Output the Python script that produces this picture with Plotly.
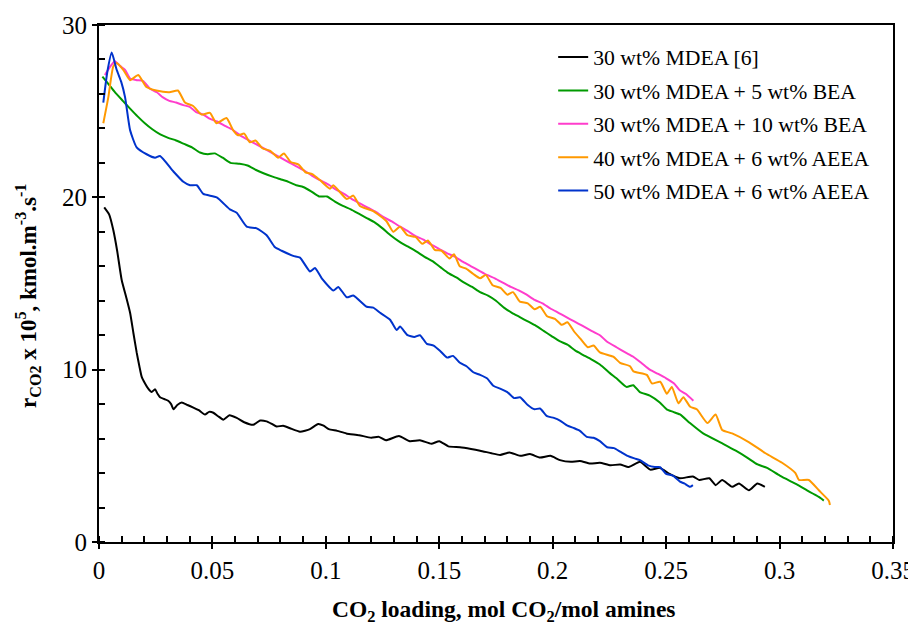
import plotly.graph_objects as go

# ---------------- data ----------------
series_names = [
    "30 wt% MDEA [6]",
    "30 wt% MDEA + 5 wt% BEA",
    "30 wt% MDEA + 10 wt% BEA",
    "40 wt% MDEA + 6 wt% AEEA",
    "50 wt% MDEA + 6 wt% AEEA",
]
series_colors = ["#000000", "#009A00", "#FF3DCC", "#FF9900", "#0033CC"]

mdea30_x = [
    0.0023, 0.0045, 0.0063, 0.008, 0.010, 0.012, 0.0137, 0.0152, 0.0166, 0.0178,
    0.0188, 0.0203, 0.0217, 0.0232, 0.0247, 0.0258, 0.0269, 0.0287, 0.0305, 0.0318,
    0.0328, 0.0345, 0.0365, 0.039, 0.0416, 0.044, 0.0467, 0.0485, 0.0504, 0.0525,
    0.0548, 0.0575, 0.0607, 0.064, 0.068, 0.071, 0.0739, 0.0762, 0.0783, 0.0812,
    0.0842, 0.0886, 0.093, 0.0966, 0.099, 0.1013, 0.105, 0.109, 0.1146, 0.12,
    0.1234, 0.1265, 0.1322, 0.137, 0.1415, 0.1465, 0.150, 0.154, 0.1591, 0.164,
    0.168, 0.173, 0.1768, 0.181, 0.1856, 0.19, 0.1944, 0.199, 0.2032, 0.208,
    0.212, 0.2165, 0.2208, 0.2255, 0.2297, 0.2335, 0.2385, 0.243, 0.2473, 0.2515,
    0.256, 0.2618, 0.2646, 0.2690, 0.2718, 0.2747, 0.2791, 0.2821, 0.2865, 0.2902,
    0.2935,
]
mdea30_y = [
    19.42, 19.0, 18.1, 16.9, 15.2, 14.2, 13.3, 12.1, 11.0, 10.2,
    9.6, 9.2, 8.9, 8.7, 8.86, 8.6, 8.4, 8.3, 8.2, 8.0,
    7.7, 7.95, 8.1, 7.95, 7.8, 7.65, 7.4, 7.55, 7.5, 7.3,
    7.1, 7.35, 7.2, 6.95, 6.8, 7.05, 7.0, 6.85, 6.7, 6.75,
    6.6, 6.4, 6.55, 6.85, 6.75, 6.55, 6.45, 6.3, 6.2, 6.05,
    6.1, 5.9, 6.15, 5.85, 5.9, 5.7, 5.85, 5.55, 5.5, 5.4,
    5.3, 5.15, 5.05, 5.2, 5.0, 5.1, 4.9, 5.0, 4.75, 4.65,
    4.7, 4.55, 4.6, 4.45, 4.5, 4.35, 4.65, 4.2, 4.3, 3.95,
    3.7, 3.8, 3.6, 3.7, 3.3, 3.6, 3.2, 3.4, 3.0, 3.4,
    3.2,
]

bea5_x = [
    0.0015, 0.004, 0.007, 0.0105, 0.0137, 0.017, 0.0202, 0.0235, 0.027, 0.0305,
    0.034, 0.0375, 0.041, 0.0445, 0.048, 0.051, 0.0545, 0.058, 0.062, 0.0655,
    0.069, 0.0725, 0.0765, 0.080, 0.0835, 0.087, 0.090, 0.0935, 0.097, 0.1005,
    0.104, 0.1075, 0.111, 0.1145, 0.118, 0.1215, 0.125, 0.1285, 0.1327, 0.136,
    0.140, 0.1435, 0.147, 0.1505, 0.154, 0.1575, 0.161, 0.1645, 0.168, 0.1715,
    0.175, 0.1785, 0.182, 0.1855, 0.189, 0.1925, 0.196, 0.1995, 0.203, 0.2065,
    0.210, 0.2135, 0.217, 0.2208, 0.2252, 0.2281, 0.2325, 0.2355, 0.2384, 0.2428,
    0.2472, 0.2502, 0.2531, 0.2561, 0.2605, 0.2663, 0.2751, 0.2807, 0.2857, 0.2903,
    0.2945, 0.3001, 0.3045, 0.3076, 0.3121, 0.3148, 0.3175, 0.3195,
]
bea5_y = [
    27.0, 26.6, 26.1, 25.6, 25.15, 24.7, 24.3, 23.95, 23.65, 23.45,
    23.3, 23.1, 22.9, 22.6, 22.5, 22.55, 22.3, 22.0, 21.95, 21.85,
    21.6, 21.4, 21.2, 21.05, 20.9, 20.7, 20.6, 20.35, 20.05, 20.05,
    19.75, 19.5, 19.3, 19.05, 18.8, 18.55, 18.2, 17.8, 17.4, 17.15,
    16.85, 16.55, 16.3, 15.95, 15.6, 15.35, 15.05, 14.8, 14.5, 14.3,
    14.0, 13.6, 13.3, 13.05, 12.8, 12.55, 12.25, 11.95, 11.65, 11.45,
    11.1, 10.85, 10.6, 10.3, 9.8, 9.5, 9.0, 9.1, 8.7, 8.5,
    8.1, 7.7, 7.55, 7.4, 6.9, 6.3, 5.7, 5.3, 4.9, 4.5,
    4.3, 3.85, 3.55, 3.35, 3.0, 2.8, 2.6, 2.4,
]

bea10_x = [
    0.0026, 0.005, 0.007, 0.0095, 0.0115, 0.0137, 0.0166, 0.0195, 0.0225, 0.0255,
    0.0282, 0.031, 0.034, 0.0372, 0.040, 0.0428, 0.046, 0.049, 0.052, 0.0555,
    0.0585, 0.0622, 0.0655, 0.069, 0.0725, 0.076, 0.080, 0.0835, 0.087, 0.0905,
    0.094, 0.0974, 0.101, 0.1045, 0.108, 0.1115, 0.115, 0.1185, 0.122, 0.1255,
    0.129, 0.1327, 0.136, 0.1395, 0.143, 0.1465, 0.150, 0.1535, 0.157, 0.1605,
    0.164, 0.1675, 0.171, 0.1745, 0.178, 0.1815, 0.185, 0.1885, 0.192, 0.1955,
    0.199, 0.2025, 0.206, 0.2095, 0.213, 0.2165, 0.2208, 0.2237, 0.2281, 0.232,
    0.2355, 0.239, 0.2428, 0.2465, 0.250, 0.2535, 0.256, 0.2586, 0.262,
]
bea10_y = [
    27.1, 27.6, 27.9, 27.6, 27.4, 26.9, 26.8, 26.75, 26.3, 26.1,
    25.8, 25.6, 25.5, 25.35, 25.25, 24.95, 24.8, 24.55, 24.4, 24.15,
    23.95, 23.6, 23.35, 23.1, 22.85, 22.6, 22.3, 22.05, 21.8, 21.55,
    21.25, 21.0, 20.75, 20.45, 20.2, 19.9, 19.65, 19.4, 19.15, 18.85,
    18.6, 18.3, 18.05, 17.75, 17.55, 17.25, 17.0, 16.75, 16.55, 16.25,
    16.0, 15.75, 15.5, 15.3, 15.05, 14.8, 14.6, 14.35, 14.05, 13.85,
    13.55, 13.3, 13.05, 12.8, 12.55, 12.3, 12.0, 11.65, 11.3, 11.0,
    10.75, 10.4, 10.0, 9.75, 9.5, 9.2, 8.8, 8.6, 8.2,
]

aeea40_x = [
    0.0019, 0.0041, 0.0063, 0.0078, 0.0107, 0.0137, 0.0173, 0.0209, 0.0253, 0.031,
    0.0348, 0.0379, 0.0415, 0.0452, 0.0489, 0.0518, 0.0562, 0.0591, 0.0613, 0.064,
    0.0665, 0.069, 0.072, 0.0755, 0.079, 0.0815, 0.0845, 0.088, 0.091, 0.094,
    0.0974, 0.1018, 0.1033, 0.1092, 0.1121, 0.1150, 0.1209, 0.1268, 0.1297, 0.1327,
    0.136, 0.1395, 0.1425, 0.145, 0.148, 0.151, 0.1545, 0.1565, 0.159, 0.162,
    0.165, 0.168, 0.1705, 0.1735, 0.177, 0.180, 0.1825, 0.1855, 0.189, 0.192,
    0.1945, 0.1975, 0.201, 0.204, 0.2065, 0.2095, 0.2125, 0.2155, 0.218, 0.2208,
    0.2267, 0.2297, 0.2341, 0.2356, 0.2415, 0.2437, 0.2474, 0.2503, 0.2525, 0.2554,
    0.2576, 0.2606, 0.2635, 0.2682, 0.2718, 0.2747, 0.2791, 0.2864, 0.2938, 0.3011,
    0.3070, 0.3085, 0.3129, 0.3173, 0.3217, 0.3222,
]
aeea40_y = [
    24.3, 25.8, 27.6, 27.8, 27.4, 26.8, 27.1, 26.4, 26.2, 26.1,
    26.2, 25.5, 25.3, 24.8, 24.9, 24.3, 24.6, 23.9, 23.6, 23.7,
    23.2, 23.3, 22.85, 22.7, 22.3, 22.55, 22.05, 21.9, 21.45, 21.35,
    21.0, 20.5, 20.7, 19.9, 20.1, 19.5, 19.2, 18.6, 18.0, 18.3,
    17.8, 17.7, 17.3, 17.5, 16.95, 16.9, 16.45, 16.7, 16.0, 15.85,
    15.55, 15.3, 15.5, 14.9, 14.75, 14.35, 14.5, 13.95, 13.85, 13.5,
    13.65, 13.1, 12.95, 12.6, 12.75, 12.2, 11.75, 11.3, 11.4, 11.0,
    10.75, 10.4, 10.2, 9.9, 9.7, 9.2, 9.3, 8.6, 9.0, 8.05,
    8.4, 7.85, 7.7, 6.9, 7.4, 6.5, 6.3, 5.8, 5.15, 4.6,
    4.0, 3.6, 3.6, 3.0, 2.4, 2.15,
]

aeea50_x = [
    0.0019, 0.0037, 0.0056, 0.0078, 0.0098, 0.0115, 0.0137, 0.0166, 0.0210, 0.0247,
    0.0269, 0.0328, 0.0372, 0.0401, 0.0431, 0.0460, 0.0519, 0.0577, 0.0607, 0.0651,
    0.0695, 0.0739, 0.0776, 0.0805, 0.0856, 0.0886, 0.0930, 0.0952, 0.0982, 0.1033,
    0.1055, 0.1092, 0.1121, 0.1180, 0.1209, 0.1239, 0.1283, 0.1312, 0.1327, 0.1360,
    0.1390, 0.1415, 0.1445, 0.1475, 0.1503, 0.1535, 0.1560, 0.1591, 0.1620, 0.1650,
    0.1680, 0.1710, 0.1740, 0.1768, 0.1800, 0.1830, 0.1856, 0.1890, 0.1920, 0.1944,
    0.1975, 0.2005, 0.2032, 0.2065, 0.2095, 0.2120, 0.2150, 0.2180, 0.2208, 0.2240,
    0.2270, 0.2297, 0.2330, 0.2360, 0.2385, 0.2420, 0.2450, 0.2473, 0.2500, 0.2530,
    0.2561, 0.2580, 0.2605, 0.2618,
]
aeea50_y = [
    25.5, 27.3, 28.4, 27.4, 26.7, 25.8, 23.9, 22.9, 22.5, 22.3,
    22.4, 21.5, 20.9, 20.7, 20.7, 20.2, 20.0, 19.3, 19.1, 18.3,
    18.2, 17.8, 17.1, 16.9, 16.6, 16.5, 15.7, 15.9, 15.3, 14.6,
    14.8, 14.2, 14.3, 13.65, 13.6, 13.3, 12.9, 12.3, 12.5, 12.0,
    11.9, 12.0, 11.5, 11.4, 11.1, 10.7, 10.8, 10.4, 10.2, 9.85,
    9.7, 9.5, 9.05, 8.9, 8.7, 8.35, 8.4, 7.95, 7.7, 7.75,
    7.3, 7.2, 7.05, 6.75, 6.6, 6.45, 6.1, 6.05, 5.85, 5.5,
    5.45, 5.25, 5.0, 4.85, 4.75, 4.45, 4.35, 4.35, 3.95, 3.85,
    3.5, 3.4, 3.2, 3.3,
]

x_title = "<b>CO<sub>2</sub> loading, mol CO<sub>2</sub>/mol amines</b>"
y_title = "<b>r<sub>CO2</sub> x 10<sup>5</sup>, kmol.m<sup>-3</sup>.s<sup>-1</sup></b>"

# ---------------- figure ----------------
FONT = "Liberation Serif"
xs = [mdea30_x, bea5_x, bea10_x, aeea40_x, aeea50_x]
ys = [mdea30_y, bea5_y, bea10_y, aeea40_y, aeea50_y]

fig = go.Figure()
for name, color, x, y in zip(series_names, series_colors, xs, ys):
    fig.add_trace(go.Scatter(
        x=x, y=y, mode="lines", name=name, legendgroup=name,
        line=dict(color=color, width=2, shape="spline", smoothing=0.5),
    ))

axis_common = dict(
    showgrid=False, zeroline=False, showline=True, linecolor="black",
    linewidth=2, mirror=True, ticks="outside", ticklen=5, tickwidth=2,
    tickcolor="black", tickfont=dict(family=FONT, size=25, color="black"),
    automargin=False,
)

# The page body adds an 8 px offset, so the figure is 8 px smaller than the window.
fig.update_layout(
    width=908, height=620,
    margin=dict(l=91, r=23, t=17, b=86),
    paper_bgcolor="white", plot_bgcolor="white",
    font=dict(family=FONT, color="black"),
    showlegend=True,
    legend=dict(
        x=0.572, y=0.978, xanchor="left", yanchor="top",
        font=dict(family=FONT, size=21.7, color="black"),
        bgcolor="rgba(0,0,0,0)", borderwidth=0,
        tracegroupgap=2.2,
    ),
    xaxis=dict(
        range=[0, 0.35], tick0=0, dtick=0.05,
        minor=dict(dtick=0.01, ticks="inside", ticklen=6, tickwidth=1.5, tickcolor="black"),
        ticklabelstandoff=0,
        **axis_common,
    ),
    yaxis=dict(
        range=[0, 30], tick0=0, dtick=10,
        minor=dict(dtick=2, ticks="inside", ticklen=6, tickwidth=1.5, tickcolor="black"),
        ticklabelstandoff=0,
        **axis_common,
    ),
    annotations=[
        dict(text=x_title, xref="paper", yref="paper", x=0.51, y=-0.133,
             xanchor="center", yanchor="middle", showarrow=False,
             font=dict(family=FONT, size=23.5, color="black")),
        dict(text=y_title, xref="paper", yref="paper", x=-0.0894, y=0.476,
             xanchor="center", yanchor="middle", showarrow=False, textangle=-90,
             font=dict(family=FONT, size=23, color="black")),
    ],
)

fig.write_html("out.html")
